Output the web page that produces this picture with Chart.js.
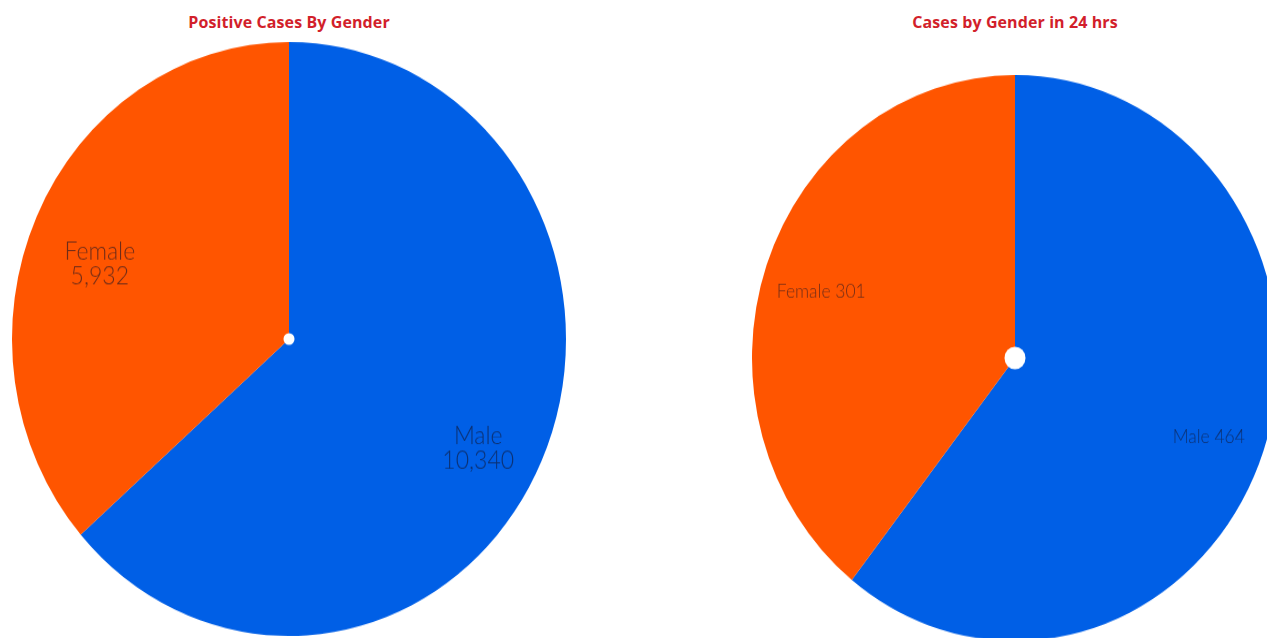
<!DOCTYPE html>
<html>
<head>
<meta charset="utf-8">
<title>Cases by Gender</title>
<script src="https://cdn.jsdelivr.net/npm/chart.js@4/dist/chart.umd.min.js"></script>
<style>
    html, body { margin: 0; padding: 0; background: #fff; overflow: hidden; }
    body { width: 1267px; height: 638px; position: relative; }
    .title {
        position: absolute; top: 11px; width: 400px; text-align: center;
        font: bold 16px "Open Sans", Lato, sans-serif; color: #d21f2b;
        letter-spacing: 0.1px;
    }
    .pie { position: absolute; transform-origin: 50% 50%; }
</style>
</head>
<body>
<div class="title" style="left: 89px;">Positive Cases By Gender</div>
<div class="title" style="left: 815px;">Cases by Gender in 24 hrs</div>

<div class="pie" id="leftWrap" style="left: 12px; top: 62px; width: 554px; height: 554px; transform: scaleY(1.072);">
    <canvas id="totalChart" width="554" height="554"></canvas>
</div>
<div class="pie" id="rightWrap" style="left: 752px; top: 95px; width: 526px; height: 526px; transform: scaleY(1.076);">
    <canvas id="dayChart" width="526" height="526"></canvas>
</div>

<script>
// Gender split, all positive cases vs last 24 hrs
const genderLabels = ['Male', 'Female'];
const totalCases = [10340, 5932];
const dayCases = [464, 301];
const sliceColors = ['#005fe6', '#ff5500'];

// labels drawn on each slice + little white dot in the middle
const sliceLabelPlugin = {
    id: 'sliceLabels',
    afterDatasetsDraw(chart, args, opts) {
        const ctx = chart.ctx;
        const meta = chart.getDatasetMeta(0);
        const values = chart.data.datasets[0].data;

        ctx.save();
        ctx.fillStyle = 'rgba(20, 20, 40, 0.62)';
        ctx.font = opts.font;
        ctx.textAlign = 'center';
        ctx.textBaseline = 'middle';

        meta.data.forEach((arc, i) => {
            const mid = (arc.startAngle + arc.endAngle) / 2;
            const r = arc.outerRadius * opts.radiusFactor;
            const x = arc.x + Math.cos(mid) * r;
            const y = arc.y + Math.sin(mid) * r + opts.yShift;
            const name = chart.data.labels[i];
            const num = values[i].toLocaleString('en-US');
            if (opts.twoLines) {
                ctx.fillText(name, x, y - opts.lineHeight / 2);
                ctx.fillText(num, x, y + opts.lineHeight / 2);
            } else {
                ctx.fillText(name + ' ' + num, x, y);
            }
        });

        const first = meta.data[0];
        ctx.fillStyle = '#ffffff';
        ctx.beginPath();
        ctx.arc(first.x, first.y, opts.dotRadius, 0, Math.PI * 2);
        ctx.fill();
        ctx.restore();
    }
};

function makePie(canvasId, values, labelOpts) {
    const ctx = document.getElementById(canvasId).getContext('2d');
    return new Chart(ctx, {
        type: 'pie',
        data: {
            labels: genderLabels,
            datasets: [{
                data: values,
                backgroundColor: sliceColors,
                borderWidth: 0,
                hoverOffset: 0,
                offset: 0
            }]
        },
        options: {
            responsive: false,
            animation: false,
            layout: { padding: 0 },
            events: [],
            plugins: {
                legend: { display: false },
                tooltip: { enabled: false },
                title: { display: false },
                sliceLabels: labelOpts
            }
        },
        plugins: [sliceLabelPlugin]
    });
}

makePie('totalChart', totalCases, {
    font: '300 23px Lato, "Open Sans", sans-serif',
    radiusFactor: 0.75,
    twoLines: true,
    lineHeight: 23,
    yShift: 16,
    dotRadius: 5.5
});

makePie('dayChart', dayCases, {
    font: '300 17.5px Lato, "Open Sans", sans-serif',
    radiusFactor: 0.78,
    twoLines: false,
    lineHeight: 0,
    yShift: 6,
    dotRadius: 10.5
});
</script>
</body>
</html>
